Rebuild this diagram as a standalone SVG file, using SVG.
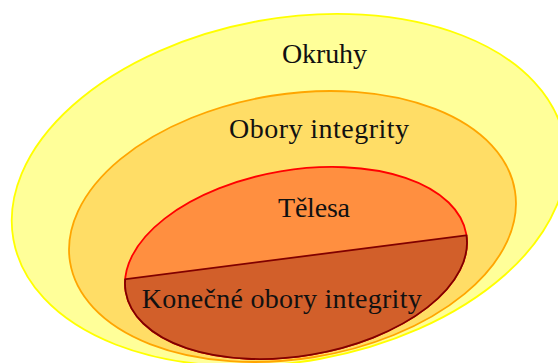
<svg xmlns="http://www.w3.org/2000/svg" width="558" height="363" viewBox="0 0 558 363">
  <style>
    text { font-family: "Liberation Serif", "Times New Roman", serif; font-size: 28px; fill: #111; text-anchor: middle; }
    .lw { stroke-width: 1.8; }
  </style>
  <defs>
    <clipPath id="lowerHalf">
      <polygon points="100,282.5 500,231 500,400 100,400"/>
    </clipPath>
    <clipPath id="redEllipse">
      <ellipse cx="296" cy="263" rx="173.5" ry="93.5" transform="rotate(-9.6 296 263)"/>
    </clipPath>
  </defs>
  <rect width="558" height="363" fill="#ffffff"/>
  <g id="node-okruhy">
    <ellipse class="lw" cx="289" cy="190" rx="280" ry="171.7" transform="rotate(-10.18 289 190)" fill="#ffff99" stroke="#ffff00"/>
    <text x="324.5" y="63" textLength="85" lengthAdjust="spacing">Okruhy</text>
  </g>
  <g id="node-obory">
    <ellipse class="lw" cx="292.5" cy="226.5" rx="225.3" ry="132.4" transform="rotate(-9.06 292.5 226.5)" fill="#ffdd66" stroke="#ffa500"/>
    <text x="319" y="138" textLength="180" lengthAdjust="spacing">Obory integrity</text>
  </g>
  <g id="node-telesa">
    <ellipse class="lw" cx="296" cy="263" rx="172.7" ry="92.9" transform="rotate(-9.6 296 263)" fill="#ff8f40" stroke="#ff0000"/>
    <text x="314" y="216.5" textLength="72" lengthAdjust="spacing">Tělesa</text>
  </g>
  <g id="node-konecne">
    <g clip-path="url(#lowerHalf)">
      <ellipse class="lw" cx="296" cy="263" rx="172.7" ry="92.9" transform="rotate(-9.6 296 263)" fill="#d25f2a" stroke="#800000"/>
    </g>
    <g clip-path="url(#redEllipse)">
      <line class="lw" x1="120" y1="279.9" x2="476" y2="234.1" stroke="#800000"/>
    </g>
    <text x="281.7" y="308" textLength="280" lengthAdjust="spacing">Konečné obory integrity</text>
  </g>
</svg>
